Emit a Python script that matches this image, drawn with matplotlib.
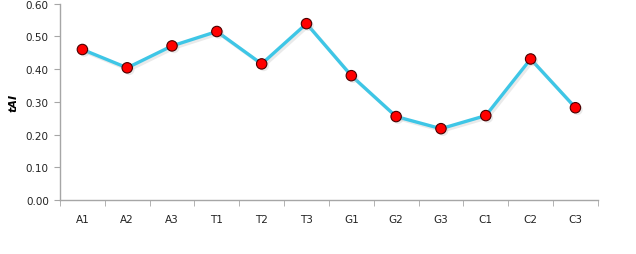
import matplotlib
matplotlib.use('Agg')
import matplotlib.pyplot as plt
import matplotlib.patheffects as pe
import numpy as np

# Categories and tAI values
categories = ['A1', 'A2', 'A3', 'T1', 'T2', 'T3', 'G1', 'G2', 'G3', 'C1', 'C2', 'C3']
tai_values = [0.46, 0.404, 0.471, 0.515, 0.416, 0.539, 0.38, 0.255, 0.218, 0.258, 0.431, 0.282]
y_ticks = [0.0, 0.1, 0.2, 0.3, 0.4, 0.5, 0.6]

axis_grey = '#A6A6A6'

fig = plt.figure(figsize=(6.36, 2.55), dpi=100)
ax = fig.add_axes([0.0943, 0.2118, 0.8457, 0.7698])

x = np.arange(len(categories))
shadow = [pe.SimplePatchShadow(offset=(1.5, -1.5), shadow_rgbFace='#BBBBBB', alpha=0.3), pe.Normal()]
ax.plot(x, tai_values, color='#3EC6E6', lw=2.4, solid_joinstyle='miter',
        path_effects=[pe.SimpleLineShadow(offset=(1.5, -1.5), shadow_color='#BBBBBB', alpha=0.3), pe.Normal()])
ax.plot(x, tai_values, ls='none', marker='o', ms=7.5, mfc='#FF0000', mec='#4A0000', mew=0.8,
        path_effects=shadow)

ax.set_xlim(-0.5, len(categories) - 0.5)
ax.set_ylim(0, 0.6)
ax.set_yticks(y_ticks)
ax.set_yticklabels([f'{v:.2f}' for v in y_ticks])
ax.set_xticks(x)
ax.set_xticklabels(categories)
ax.set_xticks(np.arange(-0.5, len(categories)), minor=True)

ax.tick_params(axis='x', which='major', length=0, pad=10, labelsize=7.5, colors='#222222')
ax.tick_params(axis='x', which='minor', length=4, color=axis_grey)
ax.tick_params(axis='y', length=4, color=axis_grey, labelsize=7.5, labelcolor='#222222', pad=4)

for s in ['top', 'right']:
    ax.spines[s].set_visible(False)
for s in ['left', 'bottom']:
    ax.spines[s].set_color(axis_grey)
    ax.spines[s].set_linewidth(1)

ax.set_ylabel('tAI', fontsize=8, fontweight='bold', fontstyle='italic', labelpad=5)

fig.savefig('out.png', dpi=100)
